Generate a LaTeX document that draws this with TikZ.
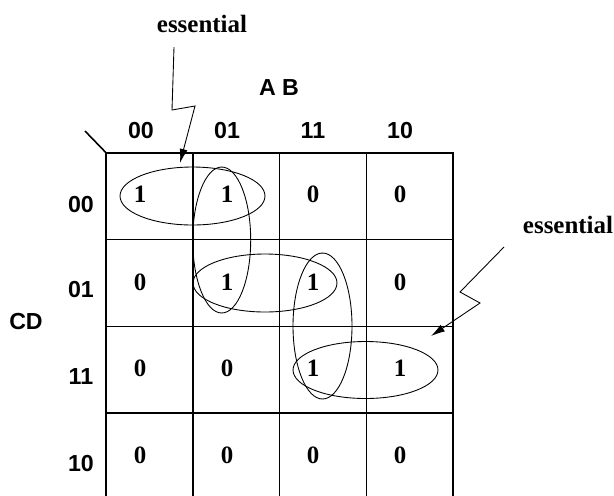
\documentclass[tikz,border=0pt]{standalone}
\usepackage{fontspec}
\setmainfont{Liberation Serif}
\setsansfont{Liberation Sans}
\usetikzlibrary{arrows.meta}

\tikzset{
  val/.style={font=\fontsize{14.2}{16}\selectfont\bfseries},
  hdr/.style={font=\sffamily\fontsize{13.2}{15}\selectfont\bfseries},
  implicant/.style={line width=0.5pt},
  pointer/.style={line width=0.5pt, -{Latex[length=8pt, width=4.5pt]}},
}

\begin{document}
\begin{tikzpicture}[x=0.02cm, y=-0.02cm, line width=0.9pt]
\useasboundingbox (0,0) rectangle (614,495);
% map grid
\draw (106,152.7) rectangle (453.2,500);
\draw (192.8,152.7) -- (192.8,500);
\draw (279.6,152.7) -- (279.6,500);
\draw (366.4,152.7) -- (366.4,500);
\draw (106,239.5) -- (453.2,239.5);
\draw (106,326.3) -- (453.2,326.3);
\draw (106,413.1) -- (453.2,413.1);
\draw (85,131) -- (106,152.7);
% variable names and Gray code labels
\node[hdr] (ab) at (279,88) {A B};
\node[hdr] (cd) at (26,322) {CD};
\node[hdr] (h1) at (141,131) {00};
\node[hdr] (h2) at (227,131) {01};
\node[hdr] (h3) at (313,131) {11};
\node[hdr] (h4) at (400,131) {10};
\node[hdr] (r1) at (81,205) {00};
\node[hdr] (r2) at (81,290) {01};
\node[hdr] (r3) at (81,377) {11};
\node[hdr] (r4) at (81,463) {10};
% cell values
\node[val] (c11) at (140,194) {1};
\node[val] (c12) at (227,194) {1};
\node[val] (c13) at (313,194) {0};
\node[val] (c14) at (400,194) {0};
\node[val] (c21) at (140,282) {0};
\node[val] (c22) at (227,282) {1};
\node[val] (c23) at (313,282) {1};
\node[val] (c24) at (400,282) {0};
\node[val] (c31) at (140,368) {0};
\node[val] (c32) at (227,368) {0};
\node[val] (c33) at (313,368) {1};
\node[val] (c34) at (400,368) {1};
\node[val] (c41) at (140,455) {0};
\node[val] (c42) at (227,455) {0};
\node[val] (c43) at (313,455) {0};
\node[val] (c44) at (400,455) {0};
% groupings
\draw[implicant] (192.5,196) ellipse [x radius=1.45cm, y radius=0.58cm];
\draw[implicant] (221.7,240) ellipse [x radius=0.58cm, y radius=1.46cm];
\draw[implicant] (265,283) ellipse [x radius=1.44cm, y radius=0.58cm];
\draw[implicant] (322.5,326) ellipse [x radius=0.59cm, y radius=1.46cm];
\draw[implicant] (365.5,370) ellipse [x radius=1.45cm, y radius=0.57cm];
% essential markers
\node[val] (ess1) at (202,24) {essential};
\node[val] (ess2) at (568,225) {essential};
\coordinate (t0) at (174,47);
\coordinate (t1) at (172,110);
\coordinate (t2) at (195,106);
\coordinate (t3) at (180,163);
\coordinate (s0) at (504,247);
\coordinate (s1) at (460,292);
\coordinate (s2) at (480,303);
\coordinate (s3) at (431,336);
\draw[pointer] (t0) -- (t1) -- (t2) -- (t3);
\draw[pointer] (s0) -- (s1) -- (s2) -- (s3);
\end{tikzpicture}
\end{document}
